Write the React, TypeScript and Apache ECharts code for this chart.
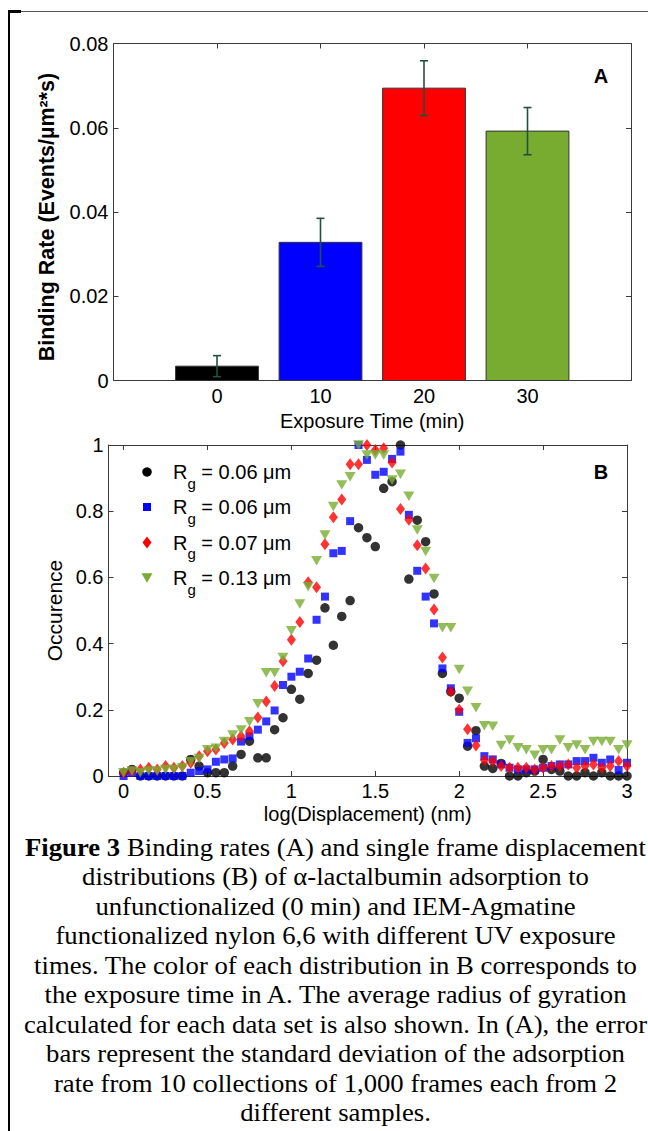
import React, { useEffect, useRef } from "react";
import * as echarts from "echarts";

// ---------- Panel A data ----------
const EXPOSURE_MIN = [0, 10, 20, 30];
const BINDING_RATE = [0.0034, 0.0328, 0.0694, 0.0592];
const BINDING_SD = [0.0025, 0.0057, 0.0065, 0.0056];
const BAR_COLORS = ["#000000", "#0000ff", "#ff0000", "#77ac30"];

// ---------- Panel B data ----------
const X_TICKS_B = [0, 0.5, 1, 1.5, 2, 2.5, 3];
const LOG_DISP = [
  0, 0.05, 0.1, 0.15, 0.2, 0.25, 0.3, 0.35, 0.4, 0.45,
  0.5, 0.55, 0.6, 0.65, 0.7, 0.75, 0.8, 0.85, 0.9, 0.95,
  1, 1.05, 1.1, 1.15, 1.2, 1.25, 1.3, 1.35, 1.4, 1.45,
  1.5, 1.55, 1.6, 1.65, 1.7, 1.75, 1.8, 1.85, 1.9, 1.95,
  2, 2.05, 2.1, 2.15, 2.2, 2.25, 2.3, 2.35, 2.4, 2.45,
  2.5, 2.55, 2.6, 2.65, 2.7, 2.75, 2.8, 2.85, 2.9, 2.95,
  3,
];
const OCC_0MIN = [
  0.01, 0.02, 0, 0, 0, 0, 0, 0, 0.05, 0.03,
  0.01, 0.01, 0.01, 0.03, 0.065, 0.105, 0.055, 0.055, 0.14, 0.176,
  0.262, 0.232, 0.31, 0.35, 0.508, 0.395, 0.482, 0.53, 0.75, 0.72,
  0.693, 0.869, 0.889, 1.0, 0.595, 0.773, 0.708, 0.55, 0.31, 0.255,
  0.235, 0.09, 0.137, 0.03, 0.023, 0.038, 0, 0, 0.01, 0.015,
  0.05, 0.02, 0.015, 0, 0, 0.01, 0, 0.01, 0, 0,
  0,
];
const OCC_10MIN = [
  0, 0.01, 0, 0, 0, 0, 0, 0, 0.01, 0.015,
  0.02, 0.043, 0.05, 0.053, 0.104, 0.12, 0.14, 0.165, 0.198, 0.275,
  0.3, 0.315, 0.355, 0.472, 0.542, 0.673, 0.68, 0.77, 1.0, 0.955,
  0.91, 0.919, 0.958, 0.98, 0.789, 0.62, 0.542, 0.461, 0.325, 0.265,
  0.194, 0.1, 0.114, 0.06, 0.05, 0.035, 0.025, 0.02, 0.02, 0.02,
  0.025, 0.03, 0.035, 0.035, 0.045, 0.045, 0.055, 0.04, 0.05, 0.018,
  0.04,
];
const OCC_20MIN = [
  0.01, 0.015, 0.02, 0.025, 0.02, 0.03, 0.025, 0.03, 0.04, 0.06,
  0.075, 0.08, 0.1, 0.11, 0.12, 0.135, 0.177, 0.225, 0.272, 0.347,
  0.412, 0.465, 0.585, 0.57, 0.7, 0.782, 0.835, 0.942, 0.942, 1.0,
  0.985, 0.99, 0.947, 0.807, 0.774, 0.697, 0.627, 0.503, 0.358, 0.255,
  0.2, 0.141, 0.092, 0.048, 0.045, 0.03, 0.025, 0.025, 0.025, 0.02,
  0.025, 0.03, 0.03, 0.035, 0.025, 0.03, 0.035, 0.025, 0.03, 0.045,
  0.03,
];
const OCC_30MIN = [
  0.01, 0.015, 0.01, 0.015, 0.015, 0.02, 0.02, 0.025, 0.043, 0.053,
  0.079, 0.084, 0.104, 0.124, 0.139, 0.164, 0.218, 0.312, 0.312, 0.358,
  0.439, 0.52, 0.572, 0.65, 0.728, 0.814, 0.879, 0.904, 1.0, 0.97,
  0.97, 0.97, 0.894, 0.912, 0.845, 0.743, 0.678, 0.597, 0.448, 0.448,
  0.322, 0.256, 0.206, 0.152, 0.15, 0.092, 0.109, 0.085, 0.079, 0.063,
  0.079, 0.079, 0.109, 0.085, 0.094, 0.079, 0.104, 0.104, 0.104, 0.079,
  0.094,
];
const RG_VALUES = ["0.06", "0.06", "0.07", "0.13"];

const CAPTION_LINES = [
  "{b|Figure 3} Binding rates (A) and single frame displacement",
  "distributions (B) of α-lactalbumin adsorption to",
  "unfunctionalized (0 min) and IEM-Agmatine",
  "functionalized nylon 6,6 with different UV exposure",
  "times. The color of each distribution in B corresponds to",
  "the exposure time in A. The average radius of gyration",
  "calculated for each data set is also shown. In (A), the error",
  "bars represent the standard deviation of the adsorption",
  "rate from 10 collections of 1,000 frames each from 2",
  "different samples.",
];

const FONT = "'Liberation Sans', Arial, Helvetica, sans-serif";
const SERIF = "'Liberation Serif', 'Times New Roman', serif";
const AXIS_COLOR = "#3a3a3a";
const ERR_COLOR = "#22503f";

const frameAxis = (extra: any) => ({
  type: "value",
  axisLine: { show: true, onZero: false, lineStyle: { color: AXIS_COLOR, width: 1 } },
  axisTick: { show: true, inside: true, length: 5, lineStyle: { color: AXIS_COLOR } },
  splitLine: { show: false },
  axisLabel: { show: false },
  ...extra,
});

const labelStyle = { show: true, fontSize: 20, color: "#000", fontFamily: FONT, margin: 5 };
const nameStyle = { fontSize: 20, color: "#000", fontFamily: FONT };

function buildOption() {
  const seriesB = [
    { data: OCC_0MIN, symbol: "circle", symbolSize: 9.5, color: "#000000", rotate: 0 },
    { data: OCC_10MIN, symbol: "rect", symbolSize: 8, color: "#0000ff", rotate: 0 },
    { data: OCC_20MIN, symbol: "diamond", symbolSize: [9, 12], color: "#ff0000", rotate: 0 },
    { data: OCC_30MIN, symbol: "triangle", symbolSize: [11, 9.5], color: "#77ac30", rotate: 180 },
  ].map((s) => ({
    type: "scatter",
    xAxisIndex: 2,
    yAxisIndex: 2,
    clip: false,
    symbol: s.symbol,
    symbolSize: s.symbolSize,
    symbolRotate: s.rotate,
    itemStyle: { color: s.color },
    data: LOG_DISP.map((x, i) => [x, s.data[i]]),
  }));

  const legendY = [472, 507, 542.5, 578];
  const legendMarkers: any[] = [
    { type: "circle", shape: { cx: 147, cy: legendY[0], r: 4.75 }, style: { fill: "#000" } },
    { type: "rect", shape: { x: 143, y: legendY[1] - 4, width: 8, height: 8 }, style: { fill: "#0000ff" } },
    {
      type: "polygon",
      shape: { points: [[147, legendY[2] - 6], [151.5, legendY[2]], [147, legendY[2] + 6], [142.5, legendY[2]]] },
      style: { fill: "#ff0000" },
    },
    {
      type: "polygon",
      shape: { points: [[141.5, legendY[3] - 4.75], [152.5, legendY[3] - 4.75], [147, legendY[3] + 4.75]] },
      style: { fill: "#77ac30" },
    },
  ];
  const legendTexts = RG_VALUES.map((v, i) => ({
    type: "text",
    x: 173,
    y: legendY[i],
    style: {
      text: `{r|R}{s|g}{r| = ${v} }{r|μm}`,
      textVerticalAlign: "middle",
      textAlign: "left",
      rich: {
        r: { fontSize: 20, fontFamily: FONT, fill: "#000" },
        s: { fontSize: 15, fontFamily: FONT, fill: "#000", padding: [22, 0, 0, 0] },
      },
    },
  }));

  const captionTexts = CAPTION_LINES.map((t, i) => ({
    type: "text",
    x: 335.5,
    y: 847.5 + i * 29.5,
    scaleX: 1.09,
    style: {
      text: t,
      textAlign: "center",
      textVerticalAlign: "middle",
      fontSize: 24.5,
      fontFamily: SERIF,
      fill: "#000",
      rich: {
        b: { fontSize: 24.5, fontFamily: SERIF, fontWeight: "bold", fill: "#000" },
      },
    },
  }));

  return {
    animation: false,
    backgroundColor: "#ffffff",
    textStyle: { fontFamily: FONT },
    grid: [
      { left: 113.5, top: 43.5, width: 517.5, height: 337 },
      { left: 108.5, top: 445, width: 518.5, height: 331 },
    ],
    xAxis: [
      frameAxis({
        gridIndex: 0,
        position: "bottom",
        min: -10,
        max: 40,
        interval: 10,
        axisLabel: {
          ...labelStyle,
          formatter: (v: number) => (EXPOSURE_MIN.indexOf(v) >= 0 ? String(v) : ""),
        },
        name: "Exposure Time (min)",
        nameLocation: "middle",
        nameGap: 30,
        nameTextStyle: nameStyle,
      }),
      frameAxis({ gridIndex: 0, position: "top", min: -10, max: 40, interval: 10 }),
      frameAxis({
        gridIndex: 1,
        position: "bottom",
        min: -0.09,
        max: 3,
        axisTick: {
          show: true,
          inside: true,
          length: 5,
          customValues: X_TICKS_B,
          lineStyle: { color: AXIS_COLOR },
        },
        axisLabel: {
          ...labelStyle,
          customValues: X_TICKS_B,
          formatter: (v: number) => String(v),
        },
        name: "log(Displacement) (nm)",
        nameLocation: "middle",
        nameGap: 28,
        nameTextStyle: nameStyle,
      }),
      frameAxis({
        gridIndex: 1,
        position: "top",
        min: -0.09,
        max: 3,
        axisTick: {
          show: true,
          inside: true,
          length: 5,
          customValues: X_TICKS_B,
          lineStyle: { color: AXIS_COLOR },
        },
      }),
    ],
    yAxis: [
      frameAxis({
        gridIndex: 0,
        position: "left",
        min: 0,
        max: 0.08,
        interval: 0.02,
        axisLabel: {
          ...labelStyle,
          formatter: (v: number) => (Math.abs(v) < 1e-9 ? "0" : v.toFixed(2)),
        },
      }),
      frameAxis({ gridIndex: 0, position: "right", min: 0, max: 0.08, interval: 0.02 }),
      frameAxis({
        gridIndex: 1,
        position: "left",
        min: 0,
        max: 1,
        interval: 0.2,
        axisLabel: {
          ...labelStyle,
          formatter: (v: number) =>
            Math.abs(v) < 1e-9 ? "0" : Math.abs(v - 1) < 1e-9 ? "1" : v.toFixed(1),
        },
        name: "Occurence",
        nameLocation: "middle",
        nameGap: 40,
        nameTextStyle: { ...nameStyle, fontSize: 21 },
      }),
      frameAxis({ gridIndex: 1, position: "right", min: 0, max: 1, interval: 0.2 }),
    ],
    series: [
      {
        type: "custom",
        xAxisIndex: 0,
        yAxisIndex: 0,
        z: 2,
        data: EXPOSURE_MIN.map((x, i) => [x, BINDING_RATE[i]]),
        renderItem: (params: any, api: any) => {
          const x = api.value(0);
          const y = api.value(1);
          const p0 = api.coord([x - 4, 0]);
          const p1 = api.coord([x + 4, y]);
          return {
            type: "rect",
            shape: { x: p0[0], y: p1[1], width: p1[0] - p0[0], height: p0[1] - p1[1] },
            style: { fill: BAR_COLORS[params.dataIndex], stroke: "#333333", lineWidth: 1 },
          };
        },
      },
      {
        type: "custom",
        xAxisIndex: 0,
        yAxisIndex: 0,
        z: 3,
        data: EXPOSURE_MIN.map((x, i) => [
          x,
          BINDING_RATE[i] - BINDING_SD[i],
          BINDING_RATE[i] + BINDING_SD[i],
        ]),
        renderItem: (params: any, api: any) => {
          const x = api.value(0);
          const lo = api.coord([x, api.value(1)]);
          const hi = api.coord([x, api.value(2)]);
          const style = { stroke: ERR_COLOR, lineWidth: 1.6 };
          const half = 4;
          return {
            type: "group",
            children: [
              { type: "line", shape: { x1: lo[0], y1: lo[1], x2: hi[0], y2: hi[1] }, style },
              { type: "line", shape: { x1: hi[0] - half, y1: hi[1], x2: hi[0] + half, y2: hi[1] }, style },
              { type: "line", shape: { x1: lo[0] - half, y1: lo[1], x2: lo[0] + half, y2: lo[1] }, style },
            ],
          };
        },
      },
      ...seriesB,
    ],
    graphic: [
      { type: "rect", shape: { x: 8, y: 11, width: 640, height: 1 }, style: { fill: "#555" } },
      { type: "rect", shape: { x: 8, y: 11, width: 2, height: 1120 }, style: { fill: "#000" } },
      { type: "rect", shape: { x: 8, y: 10, width: 13, height: 3 }, style: { fill: "#000" } },
      {
        type: "text",
        x: 47,
        y: 217,
        rotation: Math.PI / 2,
        style: {
          text: "Binding Rate (Events/µm²*s)",
          fontSize: 21.5,
          fontWeight: "bold",
          fontFamily: FONT,
          fill: "#000",
          textAlign: "center",
          textVerticalAlign: "middle",
        },
      },
      {
        type: "text",
        x: 601,
        y: 76,
        style: { text: "A", fontSize: 20, fontWeight: "bold", fontFamily: FONT, fill: "#000", textAlign: "center", textVerticalAlign: "middle" },
      },
      {
        type: "text",
        x: 601,
        y: 472,
        style: { text: "B", fontSize: 20, fontWeight: "bold", fontFamily: FONT, fill: "#000", textAlign: "center", textVerticalAlign: "middle" },
      },
      ...legendMarkers,
      ...legendTexts,
      ...captionTexts,
    ],
  };
}

export default function App() {
  const ref = useRef<HTMLDivElement>(null);
  useEffect(() => {
    if (!ref.current) return;
    const chart = echarts.init(ref.current, null, { renderer: "svg" });
    chart.setOption(buildOption() as any);
    return () => chart.dispose();
  }, []);
  return (
    <div
      ref={ref}
      style={{ position: "absolute", left: 0, top: 0, width: 648, height: 1131, background: "#fff" }}
    />
  );
}
